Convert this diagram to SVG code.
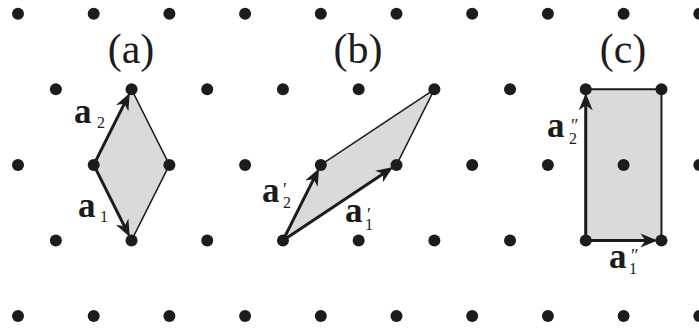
<svg xmlns="http://www.w3.org/2000/svg" width="699" height="329" viewBox="0 0 699 329">
<style>
.bg{fill:#ffffff}
.cell{fill:#d9dbda;stroke:#1c1c1c;stroke-width:1.5;stroke-linejoin:round}
.dot{fill:#1c1c1c}
.vec{stroke:#1c1c1c;stroke-width:3;fill:none;marker-end:url(#head)}
text{font-family:"Liberation Serif","DejaVu Serif",serif;fill:#1c1c1c}
.title{font-size:42px;text-anchor:middle}
.lab{font-weight:bold;font-size:35px}
.sub{font-weight:normal;font-size:16px}
.pr{font-weight:normal;font-size:18px}
</style>
<defs>
<marker id="head" markerUnits="userSpaceOnUse" markerWidth="18" markerHeight="15" refX="5" refY="7" orient="auto">
<path d="M0,0 L17,7 L0,14 L5,7 Z" fill="#1c1c1c"/>
</marker>
</defs>
<rect class="bg" x="0" y="0" width="699" height="329"/>

<g id="cell-a">
<polygon class="cell" points="93.7,164.9 131.55,89.35 169.4,164.9 131.55,240.45"/>
</g>
<g id="cell-b">
<polygon class="cell" points="282.95,240.45 320.8,164.9 434.35,89.35 396.5,164.9"/>
</g>
<g id="cell-c">
<polygon class="cell" points="585.75,89.35 661.45,89.35 661.45,240.45 585.75,240.45" style="stroke-width:2"/>
</g>

<g id="connectors">
<line class="vec" x1="93.7" y1="164.9" x2="124.38" y2="103.65"/>
<line class="vec" x1="93.7" y1="164.9" x2="124.38" y2="226.15"/>
<line class="vec" x1="282.95" y1="240.45" x2="313.63" y2="179.2"/>
<line class="vec" x1="282.95" y1="240.45" x2="383.18" y2="173.76"/>
<line class="vec" x1="585.75" y1="240.45" x2="585.75" y2="105.35"/>
<line class="vec" x1="585.75" y1="240.45" x2="645.45" y2="240.45"/>
</g>

<g id="lattice">
<g id="row0">
<circle class="dot" cx="18" cy="13.8" r="6"/><circle class="dot" cx="93.7" cy="13.8" r="6"/><circle class="dot" cx="169.4" cy="13.8" r="6"/><circle class="dot" cx="245.1" cy="13.8" r="6"/><circle class="dot" cx="320.8" cy="13.8" r="6"/><circle class="dot" cx="396.5" cy="13.8" r="6"/><circle class="dot" cx="472.2" cy="13.8" r="6"/><circle class="dot" cx="547.9" cy="13.8" r="6"/><circle class="dot" cx="623.6" cy="13.8" r="6"/><circle class="dot" cx="699.3" cy="13.8" r="6"/>
</g>
<g id="row1">
<circle class="dot" cx="55.85" cy="89.35" r="6"/><circle class="dot" cx="131.55" cy="89.35" r="6"/><circle class="dot" cx="207.25" cy="89.35" r="6"/><circle class="dot" cx="282.95" cy="89.35" r="6"/><circle class="dot" cx="358.65" cy="89.35" r="6"/><circle class="dot" cx="434.35" cy="89.35" r="6"/><circle class="dot" cx="510.05" cy="89.35" r="6"/><circle class="dot" cx="585.75" cy="89.35" r="6"/><circle class="dot" cx="661.45" cy="89.35" r="6"/>
</g>
<g id="row2">
<circle class="dot" cx="18" cy="164.9" r="6"/><circle class="dot" cx="93.7" cy="164.9" r="6"/><circle class="dot" cx="169.4" cy="164.9" r="6"/><circle class="dot" cx="245.1" cy="164.9" r="6"/><circle class="dot" cx="320.8" cy="164.9" r="6"/><circle class="dot" cx="396.5" cy="164.9" r="6"/><circle class="dot" cx="472.2" cy="164.9" r="6"/><circle class="dot" cx="547.9" cy="164.9" r="6"/><circle class="dot" cx="623.6" cy="164.9" r="6"/><circle class="dot" cx="699.3" cy="164.9" r="6"/>
</g>
<g id="row3">
<circle class="dot" cx="55.85" cy="240.45" r="6"/><circle class="dot" cx="131.55" cy="240.45" r="6"/><circle class="dot" cx="207.25" cy="240.45" r="6"/><circle class="dot" cx="282.95" cy="240.45" r="6"/><circle class="dot" cx="358.65" cy="240.45" r="6"/><circle class="dot" cx="434.35" cy="240.45" r="6"/><circle class="dot" cx="510.05" cy="240.45" r="6"/><circle class="dot" cx="585.75" cy="240.45" r="6"/><circle class="dot" cx="661.45" cy="240.45" r="6"/>
</g>
<g id="row4">
<circle class="dot" cx="18" cy="316" r="6"/><circle class="dot" cx="93.7" cy="316" r="6"/><circle class="dot" cx="169.4" cy="316" r="6"/><circle class="dot" cx="245.1" cy="316" r="6"/><circle class="dot" cx="320.8" cy="316" r="6"/><circle class="dot" cx="396.5" cy="316" r="6"/><circle class="dot" cx="472.2" cy="316" r="6"/><circle class="dot" cx="547.9" cy="316" r="6"/><circle class="dot" cx="623.6" cy="316" r="6"/><circle class="dot" cx="699.3" cy="316" r="6"/>
</g>
</g>

<g id="titles">
<text class="title" x="131" y="63">(a)</text>
<text class="title" x="358" y="63">(b)</text>
<text class="title" x="623" y="63">(c)</text>
</g>

<g id="labels">
<text id="label-a2" x="74" y="123"><tspan class="lab">a</tspan><tspan class="sub" x="97" y="128">2</tspan></text>
<text id="label-a1" x="78" y="217"><tspan class="lab">a</tspan><tspan class="sub" x="100" y="222">1</tspan></text>
<text id="label-a2p" x="262" y="202"><tspan class="lab">a</tspan><tspan class="pr" x="283" y="196">′</tspan><tspan class="sub" x="283" y="208">2</tspan></text>
<text id="label-a1p" x="345" y="222"><tspan class="lab">a</tspan><tspan class="pr" x="367" y="221">′</tspan><tspan class="sub" x="365" y="230">1</tspan></text>
<text id="label-a2pp" x="547" y="137"><tspan class="lab">a</tspan><tspan class="pr" x="571" y="132">″</tspan><tspan class="sub" x="569" y="144">2</tspan></text>
<text id="label-a1pp" x="609" y="268"><tspan class="lab">a</tspan><tspan class="pr" x="631" y="262">″</tspan><tspan class="sub" x="629" y="274">1</tspan></text>
</g>
</svg>
